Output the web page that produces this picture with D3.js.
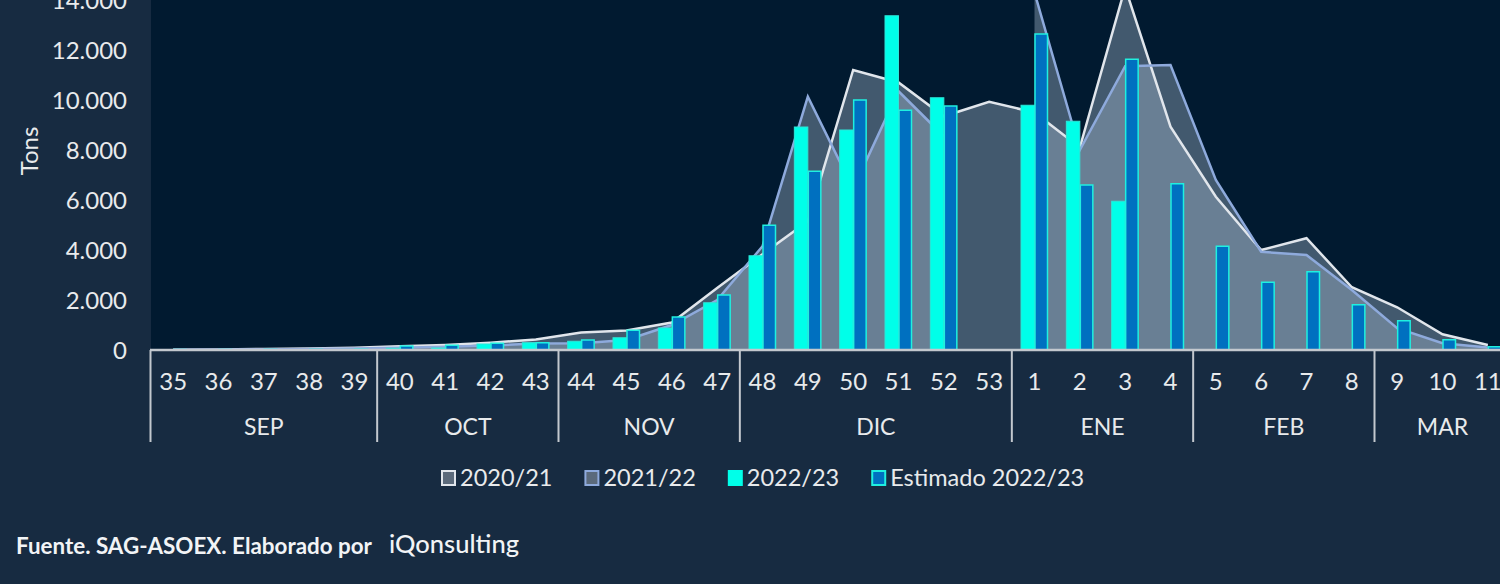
<!DOCTYPE html>
<html><head><meta charset="utf-8">
<script src="https://cdn.jsdelivr.net/npm/d3@7"></script>
<style>
html,body{margin:0;padding:0;background:#172b41;}
svg{display:block;}
text{font-family:Lato,"Open Sans",sans-serif;}
</style>
</head><body>
<svg id="chart" width="1500" height="584"></svg>
<script>
// ---------- DATA ----------
const weeks = ["35","36","37","38","39","40","41","42","43","44","45","46","47","48","49","50","51","52","53",
               "1","2","3","4","5","6","7","8","9","10","11"];
const months = ["SEP","OCT","NOV","DIC","ENE","FEB","MAR"];
const monthWeekCounts = [5,4,4,6,4,4,3];
const yTicks = [0,2000,4000,6000,8000,10000,12000,14000];
const seriesNames = ["2020/21","2021/22","2022/23","Estimado 2022/23"];

const s2020 = [10,20,40,60,90,150,200,290,420,700,780,1100,2480,3830,5150,11200,10700,9350,9930,
               9500,8100,14500,8930,6130,4000,4470,2510,1710,630,200];
const s2021 = [10,15,25,40,60,90,130,180,260,270,400,1000,2000,4150,10130,6450,10350,8550,null,
               14300,8000,11350,11400,6800,3930,3800,2400,870,270,100];
const s2022 = [15,15,20,20,25,70,80,240,290,350,490,880,1890,3770,8920,8800,13370,10090,null,
               9790,9150,5950,null,null,null,null,null,null,null,null];
const est2022 = [20,20,25,25,30,160,190,270,290,400,790,1320,2200,4990,7150,10000,9590,9760,null,
                 12640,6600,11630,6650,4150,2710,3130,1810,1170,410,130];

// ---------- LAYOUT ----------
const W = 1500, H = 584;
const plotLeft = 150.5, plotRight = 1510.5, plotTop = -20, baseY = 350;
const svg = d3.select("#chart");
const txt = "#e8eaec";

const x = d3.scaleBand().domain(weeks).range([plotLeft, plotRight]).padding(0);
const y = d3.scaleLinear().domain([0, 14000]).range([baseY, 0]);
const cx = w => x(w) + x.bandwidth() / 2;
const sub = d3.scaleBand().domain(["a","b"]).range([-13.5, 13.5]).padding(0);

const loc = d3.formatLocale({decimal: ",", thousands: ".", grouping: [3], currency: ["", ""]});
const fmt = loc.format(",");

// background
svg.append("rect").attr("x",0).attr("y",0).attr("width",W).attr("height",H).attr("fill","#172b41");
svg.append("rect").attr("x",151).attr("y",plotTop).attr("width",W-151).attr("height",baseY-plotTop).attr("fill","#011a30");

// areas
const areaGen = d3.area().defined(d => d != null)
  .x((d,i) => cx(weeks[i])).y0(y(0)).y1(d => y(d));
const lineGen = d3.line().defined(d => d != null)
  .x((d,i) => cx(weeks[i])).y(d => y(d));

const areaFill = "rgb(165,185,205)";
[[s2020, "#e1e6ec"], [s2021, "#8eaadc"]].forEach(([s, col]) => {
  svg.append("path").datum(s).attr("d", areaGen).attr("fill", areaFill).attr("fill-opacity", 0.4);
});
[[s2020, "#e1e6ec"], [s2021, "#8eaadc"]].forEach(([s, col]) => {
  svg.append("path").datum(s).attr("d", lineGen).attr("fill", "none")
    .attr("stroke", col).attr("stroke-width", 2.5).attr("stroke-linejoin","miter");
});

// bars
const barG = svg.append("g");
weeks.forEach((w, i) => {
  if (s2022[i] != null) {
    barG.append("rect").attr("x", cx(w) + sub("a")).attr("width", sub.bandwidth())
      .attr("y", y(s2022[i])).attr("height", y(0) - y(s2022[i]))
      .attr("fill", "#00ffe9").attr("stroke", "#2de6d8").attr("stroke-width", 1);
  }
  if (est2022[i] != null) {
    barG.append("rect").attr("x", cx(w) + sub("b") + 0.5).attr("width", sub.bandwidth() - 1)
      .attr("y", y(est2022[i])).attr("height", y(0) - y(est2022[i]))
      .attr("fill", "#0070c0").attr("stroke", "#1ff0e0").attr("stroke-width", 1.5);
  }
});

// x axis baseline
svg.append("line").attr("x1", 150).attr("x2", W).attr("y1", baseY).attr("y2", baseY)
  .attr("stroke", "#c3c8ce").attr("stroke-width", 2.5);

// y tick labels
svg.append("g").selectAll("text").data(yTicks).join("text")
  .attr("x", 127).attr("y", d => y(d) + 8.5).attr("text-anchor", "end")
  .attr("font-size", 24).attr("fill", txt).text(d => fmt(d));

svg.append("text").attr("transform", "translate(38,151) rotate(-90)")
  .attr("text-anchor", "middle").attr("font-size", 24).attr("fill", txt).text("Tons");

// week labels
svg.append("g").selectAll("text").data(weeks).join("text")
  .attr("x", d => cx(d)).attr("y", 390).attr("text-anchor", "middle")
  .attr("font-size", 24).attr("fill", txt).text(d => d);

// month groups
let idx = 0;
const sepX = [x(weeks[0])];
months.forEach((m, k) => {
  const start = idx, end = idx + monthWeekCounts[k] - 1;
  const x0 = x(weeks[start]), x1 = x(weeks[end]) + x.bandwidth();
  svg.append("text").attr("x", (x0 + x1) / 2).attr("y", 435).attr("text-anchor", "middle")
    .attr("font-size", 23).attr("fill", txt).text(m);
  sepX.push(x1);
  idx = end + 1;
});
svg.append("g").selectAll("line").data(sepX).join("line")
  .attr("x1", d => d).attr("x2", d => d).attr("y1", baseY).attr("y2", 442)
  .attr("stroke", "#c3c8ce").attr("stroke-width", 2);

// legend
const legStyles = [
  {fill: "#5b6a7b", stroke: "#e1e6ec"},
  {fill: "#5b6a7b", stroke: "#8eaadc"},
  {fill: "#00ffe9", stroke: "#00ffe9"},
  {fill: "#0070c0", stroke: "#1ff0e0"}
];
let lx = 442;
seriesNames.forEach((n, k) => {
  svg.append("rect").attr("x", lx).attr("y", 471).attr("width", 13).attr("height", 14)
    .attr("fill", legStyles[k].fill).attr("stroke", legStyles[k].stroke).attr("stroke-width", 2);
  const t = svg.append("text").attr("x", lx + 18).attr("y", 486).attr("font-size", 23.5)
    .attr("fill", txt).text(n);
  lx = lx + 18 + t.node().getComputedTextLength() + 33;
});

// footer
svg.append("text").attr("x", 16).attr("y", 554).attr("font-size", 22.4).attr("font-weight", 700)
  .attr("fill", "#f2f4f6").text("Fuente. SAG-ASOEX. Elaborado por");
svg.append("text").attr("x", 389).attr("y", 553).attr("font-size", 25).attr("font-weight", 500)
  .attr("font-family", "'Open Sans',sans-serif").attr("textLength", 130).attr("lengthAdjust","spacingAndGlyphs")
  .attr("fill", "#f2f4f6").text("iQonsulting");
</script>
</body></html>
